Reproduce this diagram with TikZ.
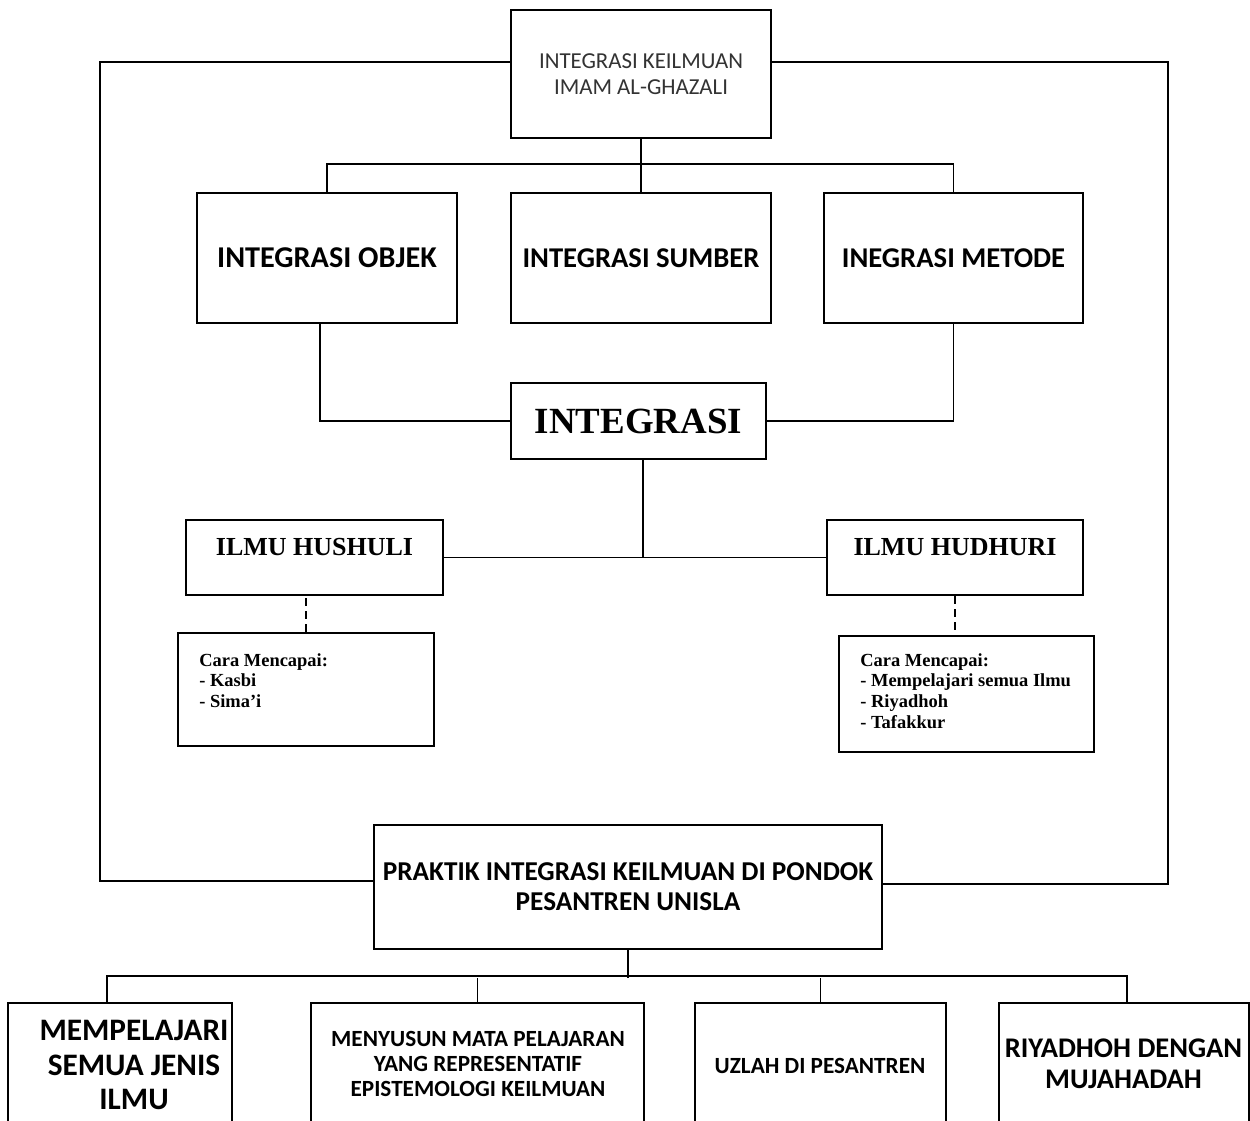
\documentclass[tikz,border=0pt]{standalone}
\usepackage{fontspec}
\setmainfont{Liberation Serif}
\newfontfamily\calib{Carlito}
\begin{document}
\begin{tikzpicture}[x=0.02cm,y=-0.02cm,
  box/.style={draw, line width=1pt, rectangle, inner sep=0pt},
  conn/.style={line width=1pt},
  dconn/.style={line width=1pt, dash pattern=on 4.5pt off 3pt},
  txt/.style={inner sep=0pt, align=center},
  ctxt/.style={inner sep=0pt, align=left, anchor=north west, font=\bfseries\fontsize{10.5}{11.8}\selectfont}]
\useasboundingbox[fill=white] (0,0) rectangle (1250,1121);

% top
\node[box, minimum width=5.2cm, minimum height=2.56cm, align=center, text=black!80,
  font=\calib\fontsize{13}{15}\selectfont] (top) at (641,74) {INTEGRASI KEILMUAN\\IMAM AL-GHAZALI};

\node[box, minimum width=5.2cm, minimum height=2.6cm, font=\calib\bfseries\fontsize{17.2}{19}\selectfont] (objek) at (327,258) {INTEGRASI OBJEK};
\node[box, minimum width=5.2cm, minimum height=2.6cm, font=\calib\bfseries\fontsize{16.3}{19}\selectfont] (sumber) at (641,258) {INTEGRASI SUMBER};
\node[box, minimum width=5.18cm, minimum height=2.6cm, font=\calib\bfseries\fontsize{16.3}{19}\selectfont] (metode) at (953.5,258) {INEGRASI METODE};

\node[box, minimum width=5.1cm, minimum height=1.52cm, font=\bfseries\fontsize{21}{24}\selectfont] (integ) at (638.5,421) {INTEGRASI};

\node[box, minimum width=5.14cm, text height=0.7cm, text depth=0.8cm, font=\bfseries\fontsize{14.8}{17}\selectfont] (hush) at (314.5,557.5) {ILMU HUSHULI};
\node[box, minimum width=5.12cm, text height=0.7cm, text depth=0.8cm, font=\bfseries\fontsize{14.8}{17}\selectfont] (hud) at (955,557.5) {ILMU HUDHURI};

\node[box, minimum width=5.12cm, minimum height=2.26cm] (cara1) at (306,689.5) {};
\node[ctxt] (cara1t) at (199,653) {Cara Mencapai:\\- Kasbi\\- Sima'i};
\node[box, minimum width=5.1cm, minimum height=2.32cm] (cara2) at (966.5,694) {};
\node[ctxt] (cara2t) at (860,653) {Cara Mencapai:\\- Mempelajari semua Ilmu\\- Riyadhoh\\- Tafakkur};

\node[box, minimum width=10.16cm, minimum height=2.48cm, align=center,
  font=\calib\bfseries\fontsize{15.5}{17}\selectfont] (prak) at (628,887) {PRAKTIK INTEGRASI KEILMUAN DI PONDOK\\PESANTREN UNISLA};

% bottom boxes (cut by page edge)
\node[box, minimum width=4.48cm, minimum height=2.74cm] (b1) at (120,1071.5) {};
\node[box, minimum width=6.66cm, minimum height=2.74cm] (b2) at (477.5,1071.5) {};
\node[box, minimum width=5.02cm, minimum height=2.74cm] (b3) at (820.5,1071.5) {};
\node[box, minimum width=5.0cm, minimum height=2.74cm] (b4) at (1124,1071.5) {};
\node[txt, font=\calib\bfseries\fontsize{17.8}{19.4}\selectfont] (b1t) at (134,1065) {MEMPELAJARI\\SEMUA JENIS\\ILMU};
\node[txt, font=\calib\bfseries\fontsize{13.2}{14.2}\selectfont] (b2t) at (478,1064) {MENYUSUN MATA PELAJARAN\\YANG REPRESENTATIF\\EPISTEMOLOGI KEILMUAN};
\node[txt, font=\calib\bfseries\fontsize{13.2}{14.2}\selectfont] (b3t) at (820,1066) {UZLAH DI PESANTREN};
\node[txt, font=\calib\bfseries\fontsize{16.2}{17.6}\selectfont] (b4t) at (1123.5,1064) {RIYADHOH DENGAN\\MUJAHADAH};

% connectors
\draw[conn] ([yshift=0.24cm]top.west) -- ++(-8.2cm,0) |- ([yshift=0.12cm]prak.west);
\draw[conn] ([yshift=0.24cm]top.east) -- ++(7.92cm,0) |- ([yshift=0.06cm]prak.east);

\draw[conn] (top.south) -- (sumber.north);
\draw[conn] (objek.north) -- ++(0,0.56cm) -| (metode.north);

\draw[conn] ([xshift=-0.14cm]objek.south) |- (integ.west);
\draw[conn] (metode.south) |- (integ.east);

\draw[conn] ([xshift=0.09cm]integ.south) -- ([xshift=0.09cm]integ.south |- hush.east);
\draw[conn] (hush.east) -- (hud.west);

\draw[dconn] (cara1.north) -- (cara1.north |- hush.south);
\draw[dconn] (hud.south) -- (hud.south |- cara2.north);

\draw[conn] (prak.south) -- ++(0,-0.56cm) coordinate (pj);
\draw[conn] ([xshift=-0.26cm]b1.north) -- ++(0,0.52cm) -| ([xshift=0.06cm]b4.north);
\draw[conn] (b2.north) -- (b2.north |- pj);
\draw[conn] (b3.north) -- (b3.north |- pj);
\end{tikzpicture}
\end{document}
